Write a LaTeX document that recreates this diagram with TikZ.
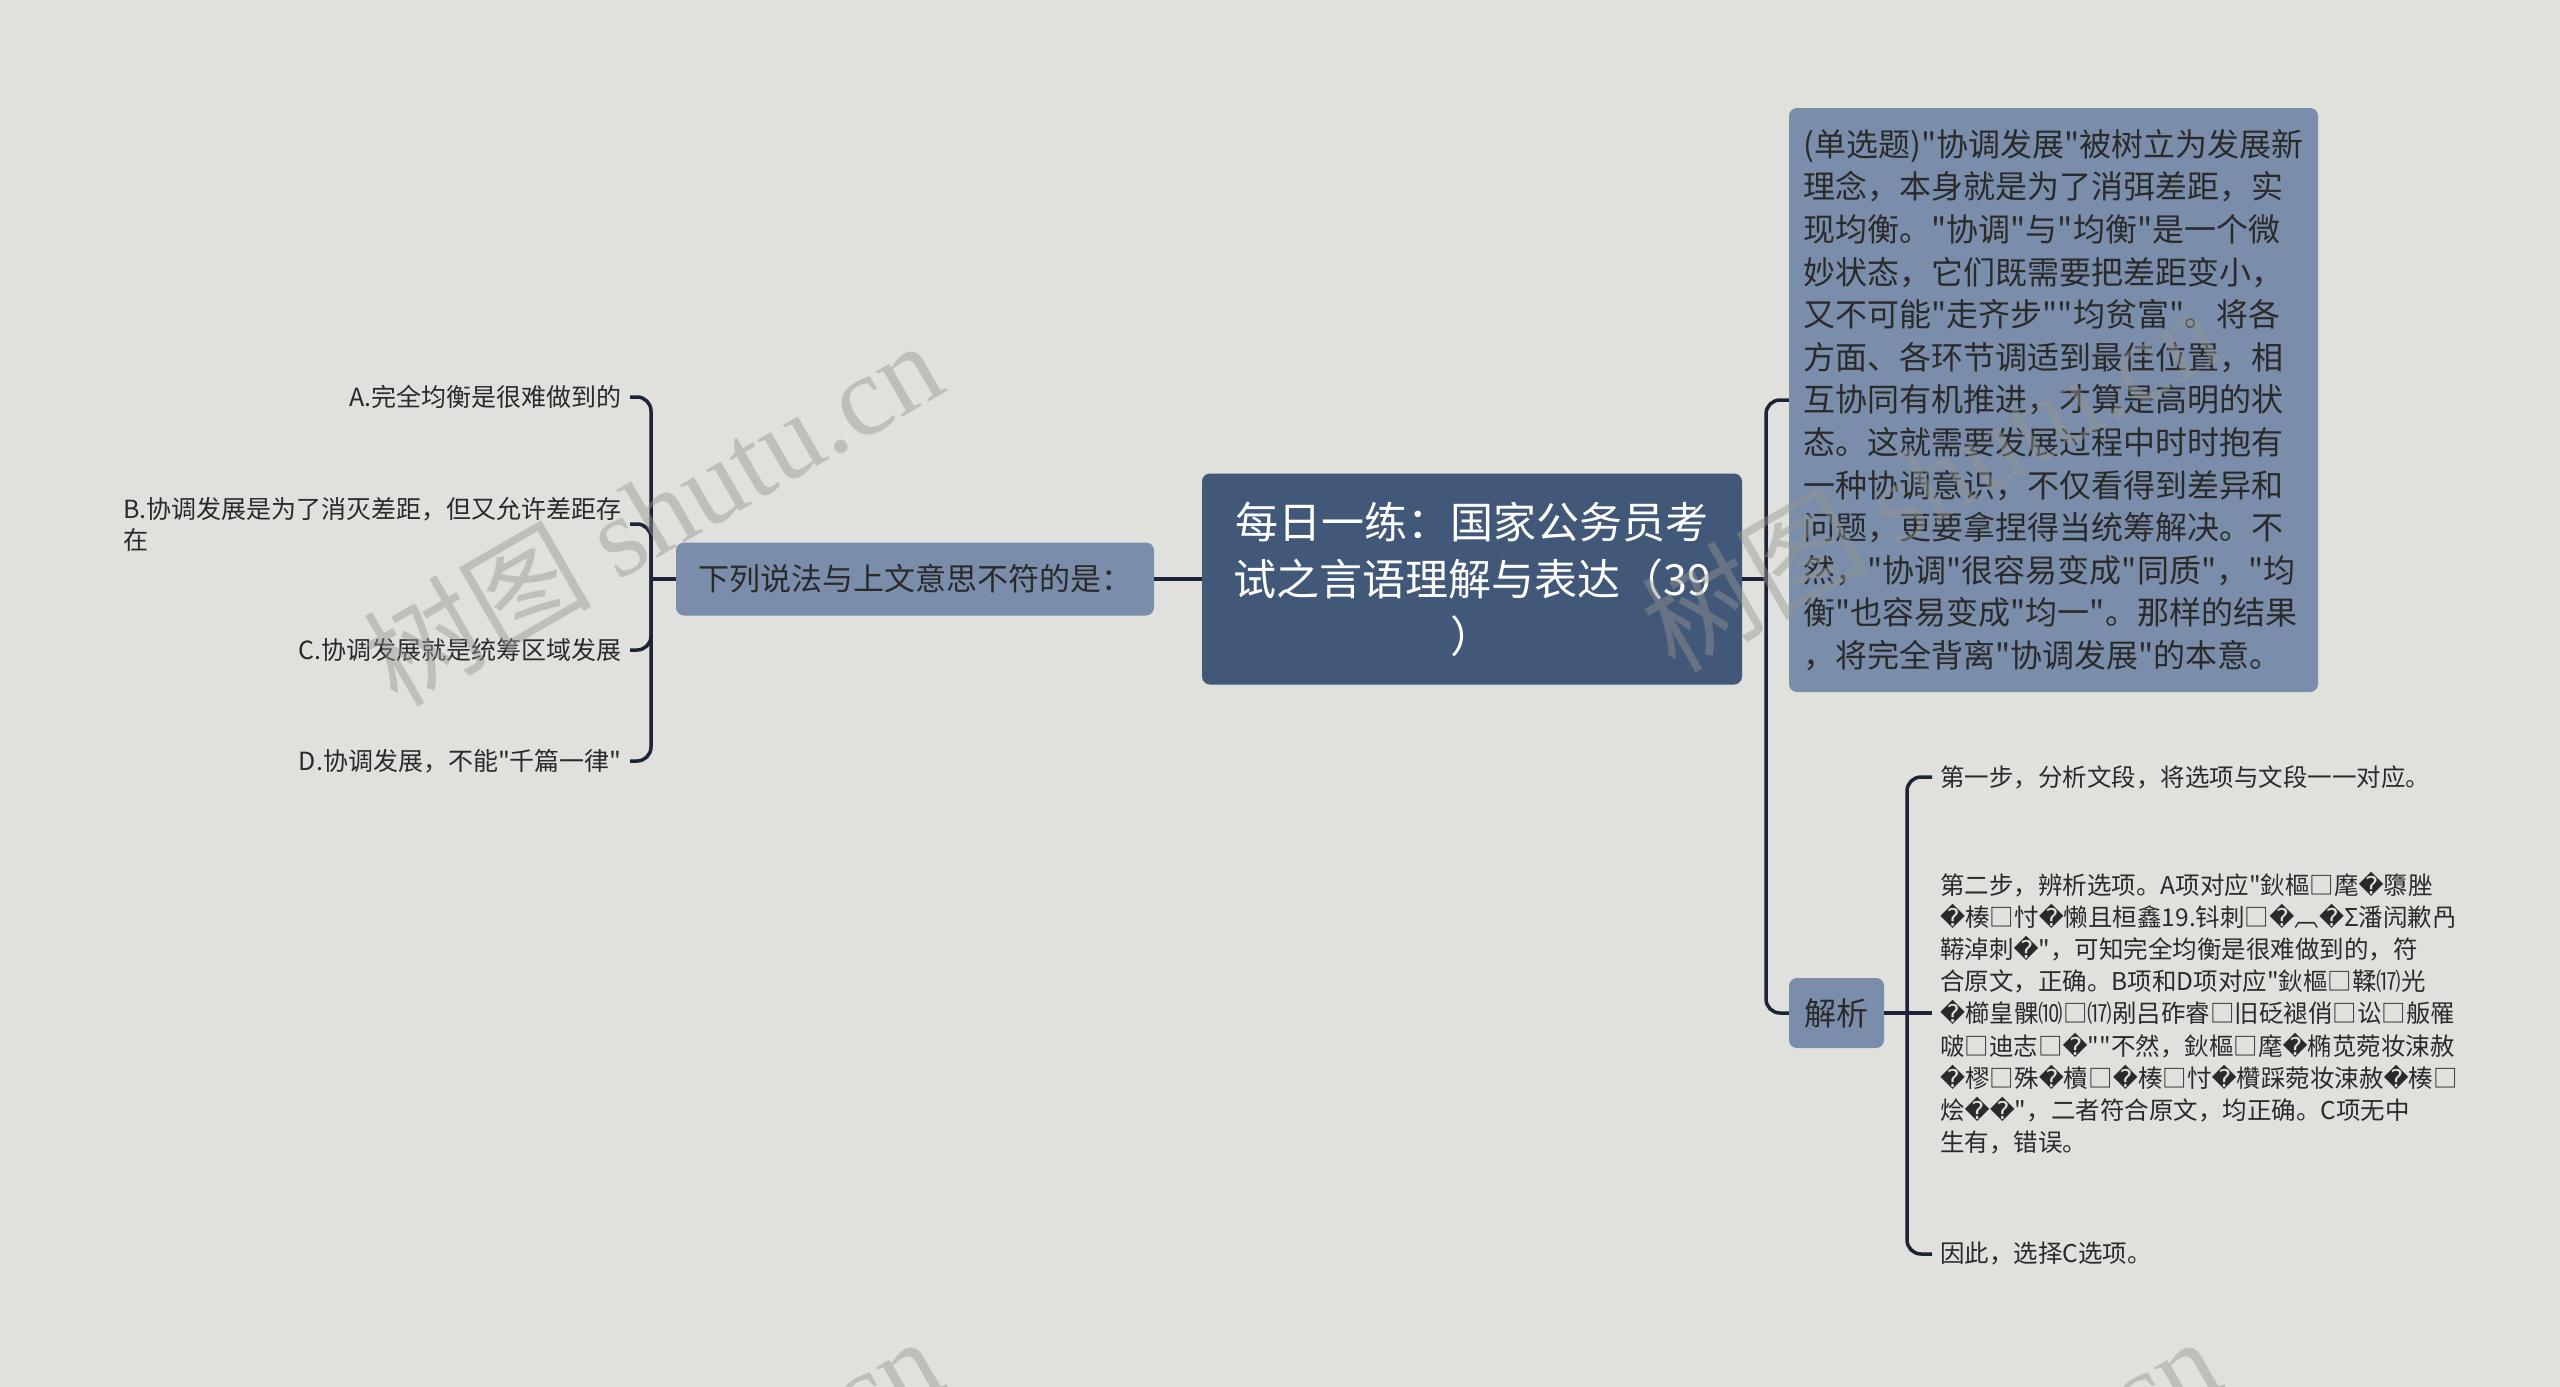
\documentclass[tikz,border=0pt]{standalone}
\usepackage{fontspec}
\setmainfont{Noto Sans CJK SC}[Ligatures=TeXOff]
\newfontfamily\dejavu{DejaVu Sans}
\newfontfamily\wmlatin{Liberation Serif}
\newcommand\rp{{\dejavu\symbol{"FFFD}}}
\definecolor{bgc}{HTML}{E0E1DC}
\definecolor{rootfill}{HTML}{415878}
\definecolor{boxfill}{HTML}{7A8DAB}
\definecolor{linec}{HTML}{1C2535}
\definecolor{textdark}{HTML}{2A2A2A}
\definecolor{wmc}{RGB}{150,150,148}
\begin{document}
\begin{tikzpicture}[x=1pt,y=-1pt,
  root/.style={fill=rootfill, rounded corners=8, text=white, align=center,
    font=\fontsize{43}{57}\selectfont, minimum width=540, minimum height=211, inner sep=0},
  subbox/.style={fill=boxfill, rounded corners=8, text=textdark, inner sep=0},
  leafl/.style={text=textdark, font=\fontsize{25}{31}\selectfont, inner xsep=8, inner ysep=2},
  leafr/.style={text=textdark, font=\fontsize{24.5}{32.2}\selectfont, inner xsep=8, inner ysep=2},
  conn/.style={draw=linec, line width=3.5},
  wm/.style={text=wmc, opacity=0.45, rotate=30, font=\fontsize{114}{120}\selectfont, inner sep=0}
]
\fill[bgc] (0,0) rectangle (2560,1387);
\useasboundingbox (0,0) rectangle (2560,1387);
\clip (0,0) rectangle (2560,1387);

% central and first-level nodes
\node[root] (root) at (1472,579) {每日一练：国家公务员考\\试之言语理解与表达（39\\）};
\node[subbox, minimum width=478, minimum height=73, font=\fontsize{31}{38}\selectfont] (q) at (915,579) {下列说法与上文意思不符的是：};
\node[subbox, minimum width=529, minimum height=584, align=left, font=\fontsize{32}{42.6}\selectfont] (ctx) at (2053.5,400) {(单选题)"协调发展"被树立为发展新\\理念，本身就是为了消弭差距，实\\现均衡。"协调"与"均衡"是一个微\\妙状态，它们既需要把差距变小，\\又不可能"走齐步""均贫富"。将各\\方面、各环节调适到最佳位置，相\\互协同有机推进，才算是高明的状\\态。这就需要发展过程中时时抱有\\一种协调意识，不仅看得到差异和\\问题，更要拿捏得当统筹解决。不\\然，"协调"很容易变成"同质"，"均\\衡"也容易变成"均一"。那样的结果\\，将完全背离"协调发展"的本意。};
\node[subbox, minimum width=95, minimum height=70, font=\fontsize{32}{38}\selectfont] (jx) at (1836.5,1013) {解析};

% left leaves
\node[leafl, anchor=east] (A) at (630,397) {A.完全均衡是很难做到的};
\node[leafl, anchor=east, align=left] (B) at (630,524) {B.协调发展是为了消灭差距，但又允许差距存\\在};
\node[leafl, anchor=east] (C) at (630,650) {C.协调发展就是统筹区域发展};
\node[leafl, anchor=east] (D) at (630,761) {D.协调发展，不能"千篇一律"};

% right leaves
\node[leafr, anchor=west] (s1) at (1932,777) {第一步，分析文段，将选项与文段一一对应。};
\node[leafr, anchor=west, align=left] (s2) at (1932,1013) {第二步，辨析选项。A项对应"鈥樞□麾\rp 隳脞\\\rp 楱□忖\rp 懒且桓鑫19.钭刺□\rp ︹\rp Σ潘闶歉冎\\鞯淖刺\rp "，可知完全均衡是很难做到的，符\\合原文，正确。B项和D项对应"鈥樞□鞣⒄光\\\rp 櫛皇髁⑽□⒄剐吕砟睿□旧砭褪俏□讼□舨罹\\啵□迪志□\rp ""不然，鈥樞□麾\rp 椭苋菀妆涑赦\\\rp 樛□殊\rp 櫝□\rp 楱□忖\rp 欑踩菀妆涑赦\rp 楱□\\烩\rp\rp "，二者符合原文，均正确。C项无中\\生有，错误。};
\node[leafr, anchor=west] (s3) at (1932,1254) {因此，选择C选项。};

% junction points
\coordinate (lb) at (651,579);
\coordinate (rb) at (1766,579);
\coordinate (jb) at (1907,1013);

% connectors
\draw[conn] (root.west) -- (q.east);
\draw[conn] (q.west) -- (lb);
\draw[conn, rounded corners=14] (A.east) -| (lb) |- (D.east);
\draw[conn, rounded corners=14] (B.east) -| (lb);
\draw[conn, rounded corners=14] (C.east) -| (lb);
\draw[conn] (root.east) -- (rb);
\draw[conn, rounded corners=14] (ctx.west) -| (rb) |- (jx.west);
\draw[conn] (jx.east) -- (jb) -- (s2.west);
\draw[conn, rounded corners=14] (s1.west) -| (jb) |- (s3.west);

% watermarks
\node[wm] (w1) at (652,512) {树图 {\wmlatin shutu.cn}};
\node[wm] (w2) at (1930,478) {树图 {\wmlatin shutu.cn}};
\node[wm] (w3) at (652,1508) {树图 {\wmlatin shutu.cn}};
\node[wm] (w4) at (1930,1508) {树图 {\wmlatin shutu.cn}};
\end{tikzpicture}
\end{document}
